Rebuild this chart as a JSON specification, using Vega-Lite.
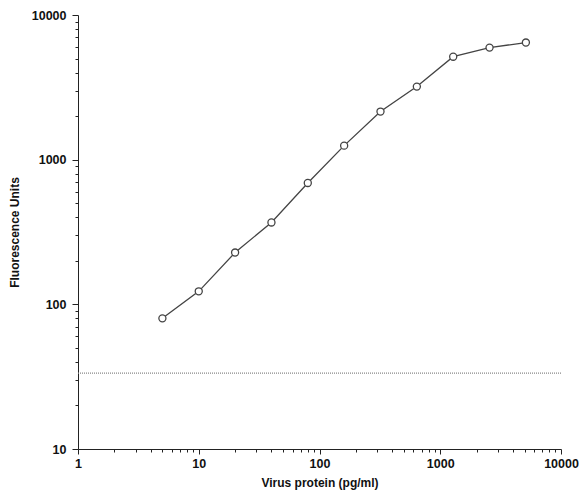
{
  "$schema": "https://vega.github.io/schema/vega-lite/v6.json",
  "width": 483,
  "height": 434,
  "autosize": {"type": "none"},
  "padding": {"left": 78, "top": 15, "right": 18, "bottom": 47},
  "background": "white",
  "config": {
    "view": {"stroke": null},
    "font": "Liberation Sans",
    "axis": {"grid": false, "domainColor": "#222", "tickColor": "#222", "labelColor": "#111", "titleColor": "#111", "labelFont": "Liberation Sans", "titleFont": "Liberation Sans", "labelFontWeight": "bold", "titleFontWeight": "bold", "labelFontSize": 12.5, "titleFontSize": 12}
  },
  "datasets": {
    "pts": [
      {"protein": 5, "fluor": 80},
      {"protein": 10, "fluor": 123},
      {"protein": 20, "fluor": 228},
      {"protein": 40, "fluor": 368},
      {"protein": 80, "fluor": 690},
      {"protein": 160, "fluor": 1250},
      {"protein": 320, "fluor": 2150},
      {"protein": 640, "fluor": 3200},
      {"protein": 1280, "fluor": 5150},
      {"protein": 2560, "fluor": 5950},
      {"protein": 5120, "fluor": 6450}
    ],
    "base": [{"level": 33.5}]
  },
  "layer": [
    {
      "data": {"name": "base"},
      "mark": {"type": "rule", "color": "#888", "strokeDash": [1, 1], "strokeWidth": 1.2},
      "encoding": {
        "y": {"field": "level", "type": "quantitative", "scale": {"type": "log", "domain": [10, 10000]}}
      }
    },
    {
      "data": {"name": "pts"},
      "mark": {"type": "line", "color": "#444", "strokeWidth": 1.3},
      "encoding": {
        "x": {"field": "protein", "type": "quantitative", "scale": {"type": "log", "domain": [1, 10000], "nice": false},
          "title": "Virus protein (pg/ml)",
          "axis": {
            "titlePadding": 8,
            "values": [1,2,3,4,5,6,7,8,9,10,20,30,40,50,60,70,80,90,100,200,300,400,500,600,700,800,900,1000,2000,3000,4000,5000,6000,7000,8000,9000,10000],
            "labelExpr": "indexof([1,10,100,1000,10000], datum.value) >= 0 ? format(datum.value, 'd') : ''",
            "tickSize": {"condition": {"test": "indexof([1,10,100,1000,10000], datum.value) >= 0", "value": 5}, "value": 3},
            "labelPadding": 3, "labelFlush": false, "labelOverlap": false}},
        "y": {"field": "fluor", "type": "quantitative", "scale": {"type": "log", "domain": [10, 10000], "nice": false},
          "title": "Fluorescence Units",
          "axis": {
            "titlePadding": 10,
            "values": [10,20,30,40,50,60,70,80,90,100,200,300,400,500,600,700,800,900,1000,2000,3000,4000,5000,6000,7000,8000,9000,10000],
            "labelExpr": "indexof([10,100,1000,10000], datum.value) >= 0 ? format(datum.value, 'd') : ''",
            "tickSize": {"condition": {"test": "indexof([10,100,1000,10000], datum.value) >= 0", "value": 6}, "value": 3},
            "labelPadding": 6, "labelFlush": false, "labelOverlap": false}}
      }
    },
    {
      "data": {"name": "pts"},
      "mark": {"type": "point", "shape": "circle", "filled": true, "fill": "white", "stroke": "#444", "strokeWidth": 1.3, "size": 50, "opacity": 1},
      "encoding": {
        "x": {"field": "protein", "type": "quantitative"},
        "y": {"field": "fluor", "type": "quantitative"}
      }
    }
  ]
}
